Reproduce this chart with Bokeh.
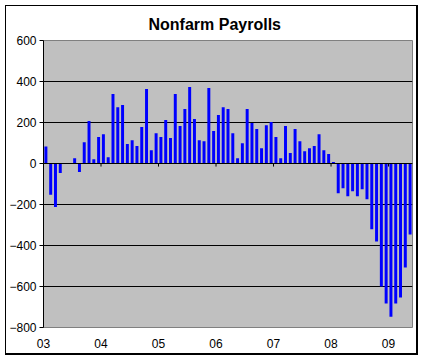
from bokeh.plotting import figure
from bokeh.models import FixedTicker, Range1d, Span
from bokeh.embed import file_html
from bokeh.resources import INLINE

# Monthly change in nonfarm payrolls (thousands), Jan 2003 .. May 2009
payrolls = [
    83, -153, -212, -46, -3, 2, 26, -41, 104, 207, 21, 129,          # 2003
    143, 31, 339, 275, 285, 95, 114, 85, 178, 363, 65, 148,          # 2004
    129, 212, 124, 339, 183, 266, 373, 217, 114, 109, 368, 158,      # 2005
    236, 275, 266, 148, 26, 99, 266, 197, 168, 75, 187, 202,         # 2006
    129, 26, 183, 51, 168, 109, 60, 75, 85, 143, 65, 46,             # 2007
    7, -145, -121, -160, -135, -160, -126, -174, -321, -380, -600, -683,  # 2008
    -747, -683, -654, -507, -346,                                    # 2009
]
year_labels = ["03", "04", "05", "06", "07", "08", "09"]
y_ticks = [-800, -600, -400, -200, 0, 200, 400, 600]
grid_ticks = [-600, -400, -200, 0, 200, 400]
title_text = "Nonfarm Payrolls"

n = len(payrolls)
month_idx = list(range(n))
centers = [m + 0.5 for m in month_idx]
year_starts = [12 * k for k in range(len(year_labels))]

FONT = "Liberation Sans"
W, H = 413, 350
ML, MR, MT, MB = 36, 7, 33, 29

p = figure(width=W, height=H, output_backend="svg", toolbar_location=None,
           x_range=Range1d(0, n), y_range=Range1d(y_ticks[0], y_ticks[-1]),
           min_border_left=ML, min_border_right=MR, min_border_top=MT,
           min_border_bottom=MB)
p.styles = {"margin": "5px", "border": "1px solid black",
            "border-right-width": "2px", "border-bottom-width": "2px"}
p.background_fill_color = "#C0C0C0"
p.border_fill_color = "white"
p.outline_line_color = "#808080"
p.outline_line_width = 1

p.title.text = title_text
p.title.align = "left"
p.title.offset = 105
p.title.standoff = 15
p.title.text_line_height = 1.0
p.title.text_font = FONT
p.title.text_font_style = "bold"
p.title.text_font_size = "16px"
p.title.text_color = "black"

p.xgrid.visible = False
p.ygrid.ticker = FixedTicker(ticks=grid_ticks)
p.ygrid.grid_line_color = "black"
p.ygrid.grid_line_width = 1

p.vbar(x=centers, top=payrolls, bottom=0, width=0.62,
       fill_color="#0000FF", line_color=None)

# category axis drawn at zero, with small tick marks at each year
p.add_layout(Span(location=0, dimension="width", line_color="black", line_width=1))
p.segment(x0=year_starts[1:], y0=0, x1=year_starts[1:], y1=-15,
          line_color="black", line_width=1)

p.yaxis.ticker = FixedTicker(ticks=y_ticks)
p.yaxis.axis_line_color = "black"
p.yaxis.major_tick_line_color = "black"
p.yaxis.major_tick_out = 4
p.yaxis.major_tick_in = 0
p.yaxis.minor_tick_line_color = None
p.yaxis.major_label_standoff = 3
p.yaxis.major_label_text_font = FONT
p.yaxis.major_label_text_font_size = "12px"
p.yaxis.major_label_text_color = "black"

p.xaxis.ticker = FixedTicker(ticks=year_starts)
p.xaxis.major_label_overrides = {ys: lab for ys, lab in zip(year_starts, year_labels)}
p.xaxis.axis_line_color = None
p.xaxis.major_tick_line_color = None
p.xaxis.major_tick_out = 0
p.xaxis.major_tick_in = 0
p.xaxis.minor_tick_line_color = None
p.xaxis.major_label_standoff = 11
p.xaxis.major_label_text_font = FONT
p.xaxis.major_label_text_font_size = "12px"
p.xaxis.major_label_text_color = "black"

open("out.html", "w").write(file_html(p, INLINE))
